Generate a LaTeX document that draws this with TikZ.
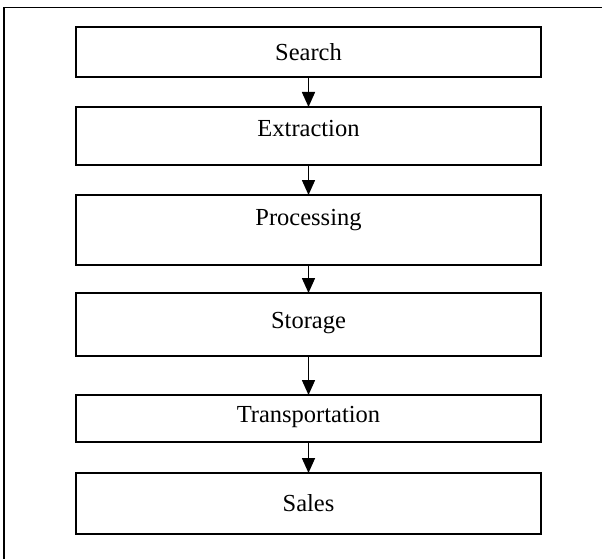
\documentclass[tikz,border=0pt]{standalone}
\usepackage{fontspec}
\setmainfont{Liberation Serif}
\usetikzlibrary{arrows.meta}
\begin{document}
\begin{tikzpicture}[x=1pt,y=-1pt,
  stagebox/.style={draw, line width=1.8pt, minimum width=465pt, inner sep=0pt, outer sep=0pt},
  stagetext/.style={font=\fontsize{24.5}{28}\selectfont, inner sep=0pt},
  flow/.style={line width=1.6pt, -{Triangle[length=15pt,width=13pt]}}]
\useasboundingbox (0,0) rectangle (602,559);
\draw[line width=1.6pt] (4,559) -- (4,7.5) -- (602,7.5);
\node[stagebox, minimum height=50pt] (b1) at (308.5,52) {};
\node[stagebox, minimum height=58pt] (b2) at (308.5,136) {};
\node[stagebox, minimum height=70pt] (b3) at (308.5,230) {};
\node[stagebox, minimum height=63pt] (b4) at (308.5,324.5) {};
\node[stagebox, minimum height=47pt] (b5) at (308.5,418.5) {};
\node[stagebox, minimum height=61pt] (b6) at (308.5,503.5) {};
\node[stagetext] (t1) at (308.5,52) {Search};
\node[stagetext] (t2) at (308.5,129) {Extraction};
\node[stagetext] (t3) at (308.5,220) {Processing};
\node[stagetext] (t4) at (308.5,323) {Storage};
\node[stagetext] (t5) at (308.5,417) {Transportation};
\node[stagetext] (t6) at (308.5,503) {Sales};
\draw[flow] (b1.south) -- (b2.north);
\draw[flow] (b2.south) -- (b3.north);
\draw[flow] (b3.south) -- (b4.north);
\draw[flow] (b4.south) -- (b5.north);
\draw[flow] (b5.south) -- (b6.north);
\end{tikzpicture}
\end{document}
